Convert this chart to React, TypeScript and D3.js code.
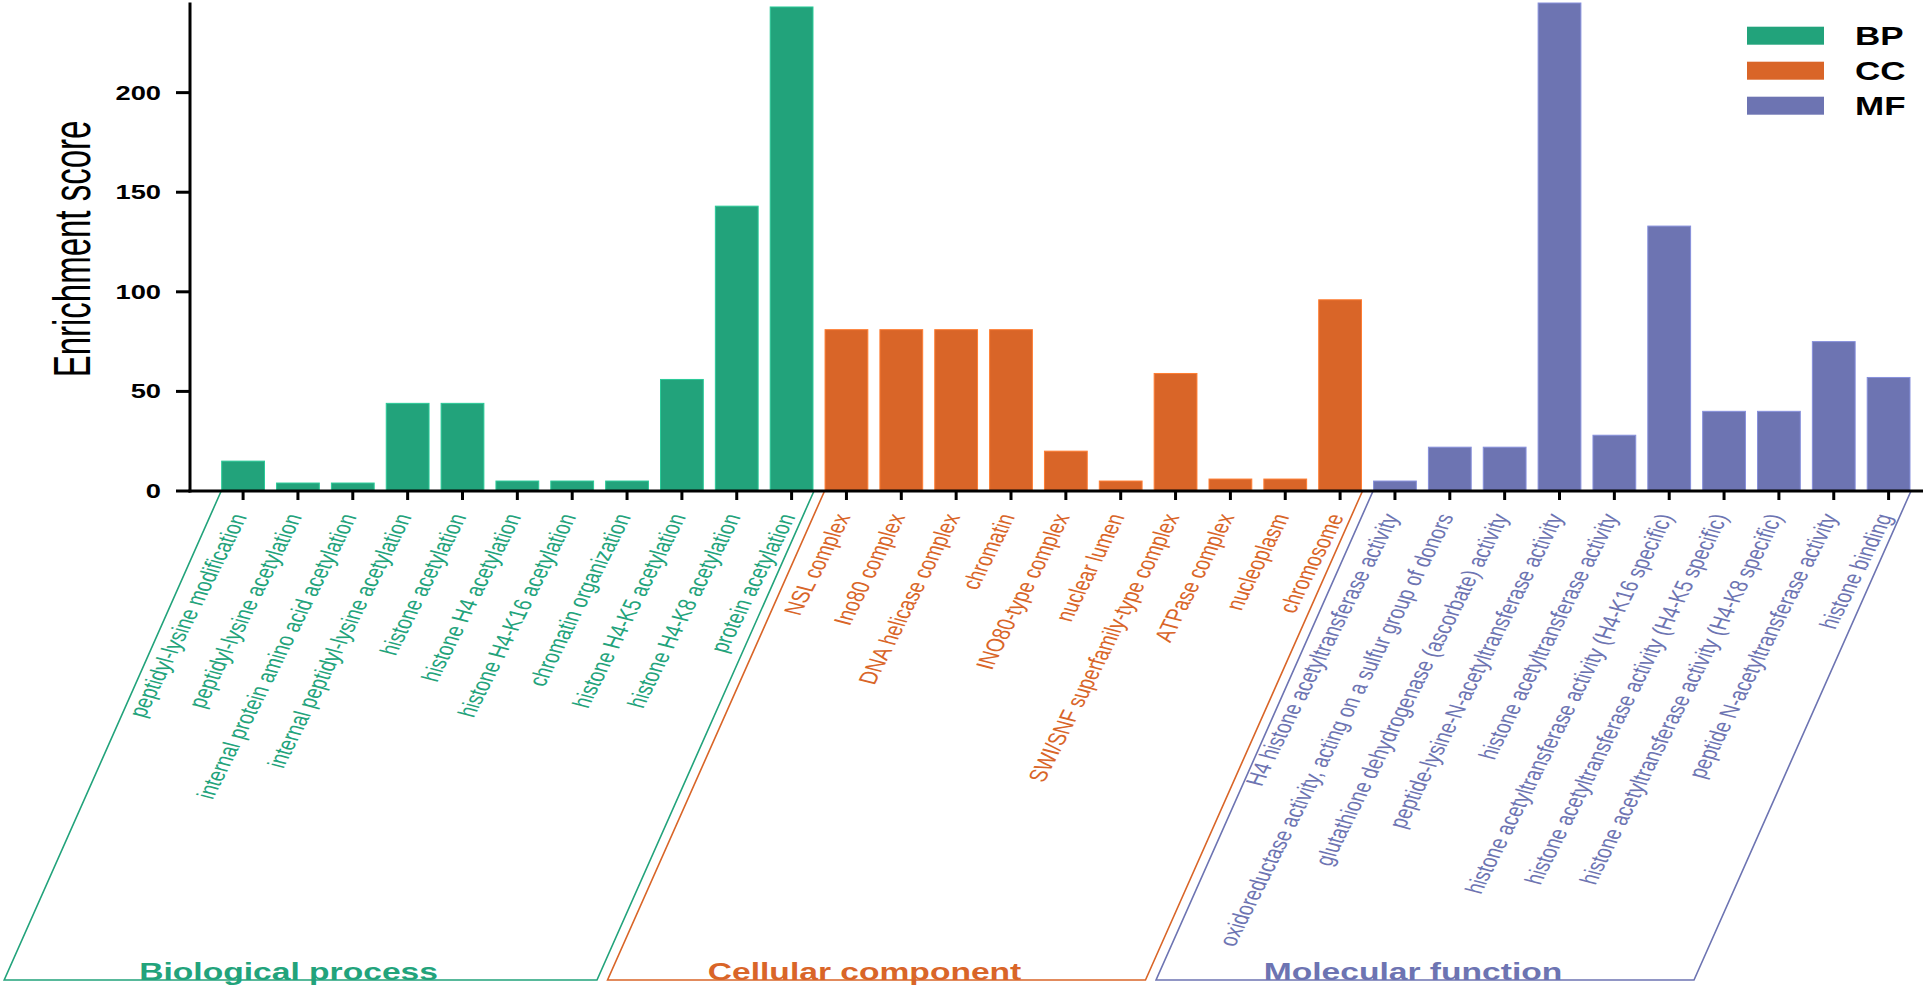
import React, { useEffect } from "react";
import * as d3 from "d3";

// GO enrichment, three ontologies
const bpTerms = [
	"peptidyl-lysine modification",
	"peptidyl-lysine acetylation",
	"internal protein amino acid acetylation",
	"internal peptidyl-lysine acetylation",
	"histone acetylation",
	"histone H4 acetylation",
	"histone H4-K16 acetylation",
	"chromatin organization",
	"histone H4-K5 acetylation",
	"histone H4-K8 acetylation",
	"protein acetylation",
];
const bpScores = [15, 4, 4, 44, 44, 5, 5, 5, 56, 143, 243];

const ccTerms = [
	"NSL complex",
	"Ino80 complex",
	"DNA helicase complex",
	"chromatin",
	"INO80-type complex",
	"nuclear lumen",
	"SWI/SNF superfamily-type complex",
	"ATPase complex",
	"nucleoplasm",
	"chromosome",
];
const ccScores = [81, 81, 81, 81, 20, 5, 59, 6, 6, 96];

const mfTerms = [
	"H4 histone acetyltransferase activity",
	"oxidoreductase activity, acting on a sulfur group of donors",
	"glutathione dehydrogenase (ascorbate) activity",
	"peptide-lysine-N-acetyltransferase activity",
	"histone acetyltransferase activity",
	"histone acetyltransferase activity (H4-K16 specific)",
	"histone acetyltransferase activity (H4-K5 specific)",
	"histone acetyltransferase activity (H4-K8 specific)",
	"peptide N-acetyltransferase activity",
	"histone binding",
];
const mfScores = [5, 22, 22, 245, 28, 133, 40, 40, 75, 57];

const groupKeys = ["BP", "CC", "MF"];
const groupNames = ["Biological process", "Cellular component", "Molecular function"];
const groupColors = ["#22a37b", "#d96528", "#6d74b2"];
const yTicks = [0, 50, 100, 150, 200];

const W = 1930;
const H = 990;
const SX = 1.4; // the figure is stretched sideways
const FONT = "'Liberation Sans', Arial, Helvetica, sans-serif";

const App: React.FC = () => {
	useEffect(() => {
		document.body.style.margin = "0";
	}, []);

	const termLists = [bpTerms, ccTerms, mfTerms];
	const scoreLists = [bpScores, ccScores, mfScores];
	const rows = termLists.flatMap((terms, g) =>
		terms.map((term, i) => ({ term, score: scoreLists[g][i], g }))
	);

	const x = d3
		.scaleBand<string>()
		.domain(rows.map((r) => r.term))
		.range([221.7, 1910])
		.paddingInner(0.22);
	const y = d3.scaleLinear().domain([0, 245]).range([491, 3]);

	const axisY = y(0);
	const bottomY = 980;
	const slantDx = 217;

	return (
		<svg width={W} height={H} style={{ display: "block", background: "#fff" }} fontFamily={FONT}>
			{/* bars */}
			{rows.map((r) => (
				<rect
					key={r.term}
					x={x(r.term)}
					y={y(r.score)}
					width={x.bandwidth()}
					height={axisY - y(r.score)}
					fill={groupColors[r.g]}
					stroke={d3.color(groupColors[r.g])!.brighter(0.6).formatHex()}
					strokeWidth={1}
				/>
			))}

			{/* group parallelograms */}
			{termLists.map((terms, g) => {
				const x0 = (x(terms[0]) as number) - 0.5;
				const x1 = (x(terms[terms.length - 1]) as number) + x.bandwidth() + 1;
				const pts: [number, number][] = [
					[x0, axisY],
					[x0 - slantDx, bottomY],
					[x1 - slantDx, bottomY],
					[x1, axisY],
				];
				return (
					<g key={groupKeys[g]}>
						<path
							d={d3.line()(pts) as string}
							fill="none"
							stroke={groupColors[g]}
							strokeWidth={1.6}
						/>
						<text
							transform={`translate(${(x0 + x1) / 2 - slantDx - 12},${bottomY}) scale(${SX},1)`}
							textAnchor="middle"
							fontSize={24}
							fontWeight="bold"
							fill={groupColors[g]}
						>
							{groupNames[g]}
						</text>
					</g>
				);
			})}

			{/* category labels */}
			{rows.map((r) => {
				const cx = (x(r.term) as number) + x.bandwidth() / 2 - 4;
				return (
					<text
						key={"l" + r.term}
						transform={`translate(${cx},${axisY + 23.5}) scale(${SX},1) rotate(-70)`}
						textAnchor="end"
						dy="0.35em"
						fontSize={18}
						fill={groupColors[r.g]}
					>
						{r.term}
					</text>
				);
			})}

			{/* x axis */}
			<line x1={188.5} x2={1923} y1={axisY} y2={axisY} stroke="#000" strokeWidth={3} />
			{rows.map((r) => {
				const cx = (x(r.term) as number) + x.bandwidth() / 2;
				return (
					<line key={"t" + r.term} x1={cx} x2={cx} y1={axisY} y2={axisY + 9} stroke="#000" strokeWidth={3} />
				);
			})}

			{/* y axis */}
			<line x1={190} x2={190} y1={2.5} y2={axisY + 1.5} stroke="#000" strokeWidth={3} />
			{yTicks.map((t) => (
				<g key={"y" + t}>
					<line x1={176} x2={190} y1={y(t)} y2={y(t)} stroke="#000" strokeWidth={3} />
					<text
						transform={`translate(161,${y(t)}) scale(${SX},1)`}
						textAnchor="end"
						dy="0.36em"
						fontSize={19.5}
						fontWeight="bold"
					>
						{t}
					</text>
				</g>
			))}
			<text
				transform={`translate(90,249) scale(1.55,1) rotate(-90)`}
				textAnchor="middle"
				fontSize={33}
			>
				Enrichment score
			</text>

			{/* legend */}
			{groupKeys.map((k, g) => (
				<g key={"lg" + k} transform={`translate(1747,${26.7 + g * 35})`}>
					<rect width={77} height={18} fill={groupColors[g]} />
					<text
						transform={`translate(108,18) scale(${SX},1)`}
						fontSize={25}
						fontWeight="bold"
					>
						{k}
					</text>
				</g>
			))}
		</svg>
	);
};

export default App;
